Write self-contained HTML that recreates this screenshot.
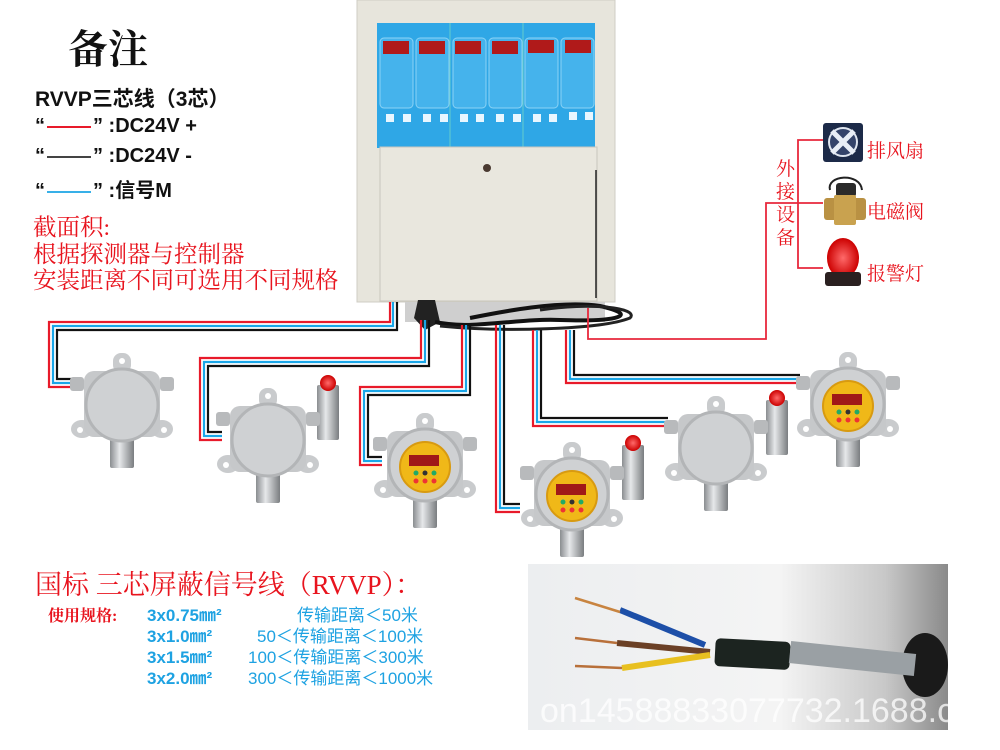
<!DOCTYPE html>
<html><head><meta charset="utf-8"><style>
body{margin:0;width:1000px;height:750px;background:#fff;overflow:hidden;position:relative;font-family:"Liberation Sans","Noto Sans CJK SC",sans-serif}
.t{position:absolute;white-space:nowrap}
.b{font-weight:bold;color:#111}
.r{color:#e8141e;font-family:"Liberation Serif","Noto Serif CJK SC",serif}
.bl{color:#1ea2e2;font-weight:bold;font-size:17px;line-height:21px}
.q{display:inline-block;width:44px;vertical-align:middle;margin:0 2px}
</style></head><body>
<svg width="1000" height="750" style="position:absolute;left:0;top:0">
<defs>
<linearGradient id="cyl" x1="0" x2="1"><stop offset="0" stop-color="#8a8d90"/><stop offset=".4" stop-color="#e6e8ea"/><stop offset="1" stop-color="#7a7d80"/></linearGradient>
<radialGradient id="dome"><stop offset="0" stop-color="#ff6a6a"/><stop offset="1" stop-color="#c00"/></radialGradient>
<g id="det">
<rect x="-9" y="-52" width="18" height="20" rx="8" fill="#c9cbcd"/>
<circle cx="0" cy="-44" r="3" fill="#fff"/>
<rect x="-52" y="-28" width="14" height="14" rx="3" fill="#b8babc"/>
<rect x="38" y="-28" width="14" height="14" rx="3" fill="#b8babc"/>
<ellipse cx="-40" cy="24" rx="11" ry="9" fill="#c9cbcd"/><ellipse cx="40" cy="24" rx="11" ry="9" fill="#c9cbcd"/>
<circle cx="-42" cy="25" r="3" fill="#fff"/><circle cx="42" cy="25" r="3" fill="#fff"/>
<rect x="-12" y="30" width="24" height="33" rx="2" fill="url(#cyl)"/>
<rect x="-38" y="-34" width="76" height="66" rx="10" fill="#c6c8ca"/>
<circle cx="0" cy="0" r="36" fill="#cfd1d3" stroke="#b3b5b7" stroke-width="3"/>
</g>
<g id="disp">
<circle cx="0" cy="2" r="25" fill="#f0b818" stroke="#d89a10" stroke-width="2"/>
<rect x="-16" y="-10" width="30" height="11" fill="#a01818"/>
<circle cx="-9" cy="8" r="2.5" fill="#2a6"/><circle cx="0" cy="8" r="2.5" fill="#333"/><circle cx="9" cy="8" r="2.5" fill="#2a6"/>
<circle cx="-9" cy="16" r="2.5" fill="#e33"/><circle cx="0" cy="16" r="2.5" fill="#e33"/><circle cx="9" cy="16" r="2.5" fill="#e33"/>
</g>
<g id="alarm">
<rect x="-11" y="0" width="22" height="55" rx="2" fill="url(#cyl)"/>
<ellipse cx="0" cy="-2" rx="8" ry="8" fill="url(#dome)"/>
</g>
</defs>

<rect x="357" y="0" width="258" height="302" fill="#e7e5dc" stroke="#cfcdc4"/>
<rect x="377" y="23" width="218" height="125" fill="#2fa7e6"/>
<g fill="#45b3ec" stroke="#8cd3f6" stroke-width="1">
<rect x="380" y="38" width="33" height="70" rx="4"/><rect x="416" y="38" width="33" height="70" rx="4"/>
<rect x="453" y="38" width="33" height="70" rx="4"/><rect x="489" y="38" width="33" height="70" rx="4"/>
<rect x="525" y="38" width="33" height="70" rx="4"/><rect x="561" y="38" width="33" height="70" rx="4"/>
</g>
<g fill="#b01a1a">
<rect x="383" y="41" width="26" height="13"/><rect x="419" y="41" width="26" height="13"/>
<rect x="455" y="41" width="26" height="13"/><rect x="492" y="41" width="26" height="13"/>
<rect x="528" y="40" width="26" height="13"/><rect x="565" y="40" width="26" height="13"/>
</g>
<g fill="#e8f6ff"><rect x="386" y="114" width="8" height="8"/><rect x="403" y="114" width="8" height="8"/><rect x="423" y="114" width="8" height="8"/><rect x="440" y="114" width="8" height="8"/><rect x="460" y="114" width="8" height="8"/><rect x="476" y="114" width="8" height="8"/><rect x="496" y="114" width="8" height="8"/><rect x="513" y="114" width="8" height="8"/><rect x="533" y="114" width="8" height="8"/><rect x="549" y="114" width="8" height="8"/><rect x="569" y="112" width="8" height="8"/><rect x="585" y="112" width="8" height="8"/></g>
<line x1="450" y1="23" x2="450" y2="148" stroke="#6cc" stroke-width="1"/><line x1="523" y1="23" x2="523" y2="148" stroke="#6cc" stroke-width="1"/>
<rect x="380" y="147" width="217" height="154" fill="#e9e7de" stroke="#c8c6bd"/>
<circle cx="487" cy="168" r="4" fill="#4a3a30"/>
<line x1="596" y1="170" x2="596" y2="298" stroke="#222" stroke-width="1.5"/>
<rect x="405" y="302" width="200" height="20" fill="#cfcfcf"/>
<path d="M418 300 L414 318 L425 330 L440 322 L435 300 Z" fill="#222"/>
<path d="M435 322 C 470 330, 520 318, 560 320 C 620 322, 640 315, 600 306 C 560 300, 500 312, 470 318" stroke="#111" stroke-width="4" fill="none"/>
<path d="M440 326 C 500 332, 600 330, 630 318 C 640 308, 590 302, 540 310" stroke="#222" stroke-width="3" fill="none"/>

<g fill="none" stroke-width="2.2">
<polyline points="390,302 390,322 49,322 49,387 72,387" stroke="#e81a2a"/>
<polyline points="393,302 393,326 53,326 53,383 72,383" stroke="#1aa6e8"/>
<polyline points="397,302 397,330 57,330 57,379 72,379" stroke="#111"/>
<polyline points="421,320 421,358 200,358 200,440 222,440" stroke="#e81a2a"/>
<polyline points="425,320 425,362 204,362 204,436 222,436" stroke="#1aa6e8"/>
<polyline points="429,320 429,366 208,366 208,432 222,432" stroke="#111"/>
<polyline points="462,325 462,387 360,387 360,465 382,465" stroke="#e81a2a"/>
<polyline points="466,325 466,391 364,391 364,461 382,461" stroke="#1aa6e8"/>
<polyline points="470,325 470,395 368,395 368,457 382,457" stroke="#111"/>
<polyline points="496,325 496,512 520,512" stroke="#e81a2a"/>
<polyline points="500,325 500,508 520,508" stroke="#1aa6e8"/>
<polyline points="504,325 504,504 520,504" stroke="#111"/>
<polyline points="533,330 533,426 668,426" stroke="#e81a2a"/>
<polyline points="537,330 537,422 668,422" stroke="#1aa6e8"/>
<polyline points="541,330 541,418 668,418" stroke="#111"/>
<polyline points="566,330 566,383 800,383" stroke="#e81a2a"/>
<polyline points="570,330 570,379 800,379" stroke="#1aa6e8"/>
<polyline points="574,330 574,375 800,375" stroke="#111"/>
</g>
<g fill="none" stroke="#e8283c" stroke-width="1.8">
<polyline points="588,308 588,339 766,339 766,203 823,203"/>
<polyline points="823,140 798,140 798,268 823,268"/>
</g>

<rect x="823" y="123" width="40" height="39" rx="3" fill="#1c2a48"/>
<circle cx="843" cy="142" r="14" fill="#34446a" stroke="#dfe6f0" stroke-width="2"/>
<path d="M832 131 L854 153 M854 131 L832 153" stroke="#e8eef6" stroke-width="5"/>
<path d="M830 190 C 826 175, 860 172, 862 190" stroke="#222" stroke-width="2" fill="none"/>
<rect x="836" y="183" width="20" height="14" rx="3" fill="#2a2a2a"/>
<rect x="824" y="198" width="42" height="22" rx="3" fill="#b99143"/>
<rect x="834" y="195" width="22" height="30" rx="2" fill="#c9a24f"/>
<ellipse cx="843" cy="258" rx="16" ry="20" fill="url(#dome)"/>
<rect x="825" y="272" width="36" height="14" rx="3" fill="#2a2020"/>

<use href="#det" x="122" y="405"/>
<use href="#alarm" x="328" y="385"/>
<use href="#det" x="268" y="440"/>
<use href="#det" x="425" y="465"/><use href="#disp" x="425" y="465"/>
<use href="#alarm" x="633" y="445"/>
<use href="#det" x="572" y="494"/><use href="#disp" x="572" y="494"/>
<use href="#alarm" x="777" y="400"/>
<use href="#det" x="716" y="448"/>
<use href="#det" x="848" y="404"/><use href="#disp" x="848" y="404"/>

<defs><linearGradient id="ph" x1="0" x2="1"><stop offset="0" stop-color="#eceef0"/><stop offset=".6" stop-color="#f4f4f4"/><stop offset=".85" stop-color="#c8c8c8"/><stop offset="1" stop-color="#8a8a8a"/></linearGradient></defs>
<rect x="528" y="564" width="420" height="166" fill="url(#ph)"/>
<ellipse cx="925" cy="665" rx="23" ry="32" fill="#1a1a1a"/>
<path d="M620 610 L705 645" stroke="#1d4fa8" stroke-width="6"/>
<path d="M575 598 L620 612" stroke="#c88440" stroke-width="2.5"/>
<path d="M617 643 L710 652" stroke="#6b4026" stroke-width="6"/>
<path d="M575 638 L617 643" stroke="#b8703a" stroke-width="2.5"/>
<path d="M622 668 L710 655" stroke="#e8c020" stroke-width="6"/>
<path d="M575 666 L622 668" stroke="#b8703a" stroke-width="2.5"/>
<rect x="715" y="640" width="75" height="28" rx="5" fill="#1c2420" transform="rotate(3 752 654)"/>
<path d="M790 652 L915 665" stroke="#9aa0a4" stroke-width="22"/>
<text x="540" y="722" font-family="Liberation Sans" font-size="34" fill="#ffffff" fill-opacity=".75">on14588833077732.1688.com</text>
</svg>

<div class="t" style="left:68px;top:18px;font-size:40px;font-weight:bold;font-family:'Liberation Serif','Noto Serif CJK SC',serif;color:#111">备注</div>
<div class="t b" style="left:35px;top:83px;font-size:21px">RVVP三芯线（3芯）</div>
<div class="t b" style="left:35px;top:115px;font-size:20px">“<span class="q" style="border-top:2px solid #e81a2a"></span>” :DC24V +</div>
<div class="t b" style="left:35px;top:145px;font-size:20px">“<span class="q" style="border-top:2px solid #444"></span>” :DC24V -</div>
<div class="t b" style="left:35px;top:174px;font-size:20px">“<span class="q" style="border-top:2px solid #38b0e8"></span>” :信号M</div>
<div class="t r" style="left:33px;top:215px;font-size:23.5px;line-height:26.5px">截面积:<br>根据探测器与控制器<br>安装距离不同可选用不同规格</div>
<div class="t r" style="left:776px;top:158px;font-size:19px;line-height:23px;width:20px;white-space:normal">外接设备</div>
<div class="t r" style="left:867px;top:136px;font-size:19px">排风扇</div>
<div class="t r" style="left:867px;top:197px;font-size:19px">电磁阀</div>
<div class="t r" style="left:867px;top:259px;font-size:19px">报警灯</div>
<div class="t r" style="left:35px;top:563px;font-size:27px">国标 三芯屏蔽信号线（RVVP）：</div>
<div class="t r" style="left:48px;top:603px;font-size:16px;font-weight:bold">使用规格:</div>
<div class="t bl" style="left:147px;top:605px">3x0.75㎜²<br>3x1.0㎜²<br>3x1.5㎜²<br>3x2.0㎜²</div>
<div class="t bl" style="left:248px;top:605px;font-weight:normal"><span style="padding-left:49px">传输距离＜50米</span><br><span style="padding-left:9px">50＜传输距离＜100米</span><br>100＜传输距离＜300米<br>300＜传输距离＜1000米</div>
</body></html>
